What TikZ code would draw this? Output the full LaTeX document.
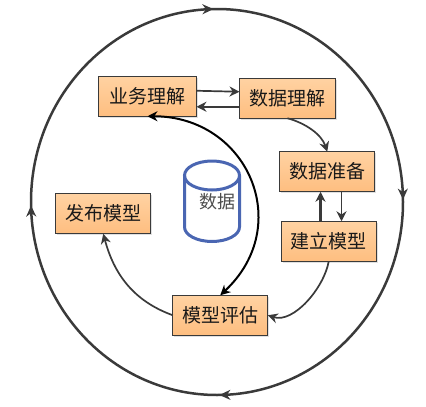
\documentclass[tikz,border=0pt]{standalone}
\usepackage{fontspec}
\newfontfamily\cjk{Noto Sans CJK SC}
\usetikzlibrary{shapes.geometric, arrows.meta, positioning, shadows, decorations.markings}
\definecolor{linegray}{HTML}{3A3A3A}
\definecolor{storeblue}{HTML}{4A66B2}
\definecolor{boxtop}{HTML}{FFD2A2}
\definecolor{boxbottom}{HTML}{FEBE80}
\begin{document}
\begin{tikzpicture}[x=1pt, y=-1pt, node distance=30pt, >={Stealth[length=10pt,width=10pt]},
    stepbox/.style={rectangle, draw=linegray, line width=1.2pt, top color=boxtop, bottom color=boxbottom, minimum width=95pt, minimum height=40pt, inner sep=0pt, outer sep=0pt, align=center, text=black!90, font=\cjk\fontsize{19}{21}\selectfont, drop shadow={shadow xshift=1.5pt, shadow yshift=-1.5pt, fill=black!30, opacity=0.4}},
    flow/.style={->, draw=linegray, line width=1.7pt},
    ring/.style={draw=linegray, line width=2.5pt, postaction={decorate}, decoration={markings,
        mark=at position 0.248 with {\arrow{Stealth[length=11pt,width=10pt]}},
        mark=at position 0.497 with {\arrow{Stealth[length=11pt,width=10pt]}},
        mark=at position 0.747 with {\arrow{Stealth[length=11pt,width=10pt]}},
        mark=at position 0.998 with {\arrow{Stealth[length=11pt,width=10pt]}}}},
    storeline/.style={draw=storeblue, line width=3pt}]
\useasboundingbox (0,0) rectangle (426,407);
\draw[ring] (217,202) ellipse [x radius=186, y radius=193];
\node[stepbox, minimum width=98pt] (biz) at (147.5,96.25) {业务理解};
\node[stepbox, right=43pt of biz, yshift=-2pt, minimum width=96pt] (data) {数据理解};
\node[stepbox, below=33.5pt of data, xshift=39.75pt] (prep) {数据准备};
\node[stepbox, below=29.5pt of prep, xshift=1.5pt] (build) {建立模型};
\node[stepbox] (eval) at (220.25,315.25) {模型评估};
\node[stepbox] (pub) at (103.25,213.75) {发布模型};
\draw[storeline] (212,175.5) ellipse [x radius=27.5, y radius=14.5];
\draw[storeline] (184.5,175.5) -- (184.5,227) arc [start angle=180, end angle=0, x radius=27.5, y radius=14.5] -- (239.5,175.5);
\node[text=black!70, font=\cjk\fontsize{18}{20}\selectfont, inner sep=0pt] (storetext) at (217,202) {数据};
\draw[flow] ([yshift=5.5pt]biz.east) -- ([yshift=6.5pt]data.west);
\draw[flow, line width=2.2pt] ([yshift=-8.5pt]data.west) -- ([yshift=-10.5pt]biz.east);
\draw[flow] (data.south) to[out=-15, in=108, looseness=0.9] (prep.north);
\draw[flow, line width=2.4pt] ([xshift=-8.25pt]build.north) -- ([xshift=-6.75pt]prep.south);
\draw[flow] ([xshift=14.25pt]prep.south) -- ([xshift=12.75pt]build.north);
\draw[flow] (build.south) to[out=-100, in=-18, looseness=0.85] (eval.east);
\draw[flow] (eval.west) to[out=160, in=-75] (pub.south);
\draw[<->, black, line width=2pt] (biz.south) .. controls +(100,0) and +(75,-70) .. (eval.north);
\end{tikzpicture}
\end{document}
